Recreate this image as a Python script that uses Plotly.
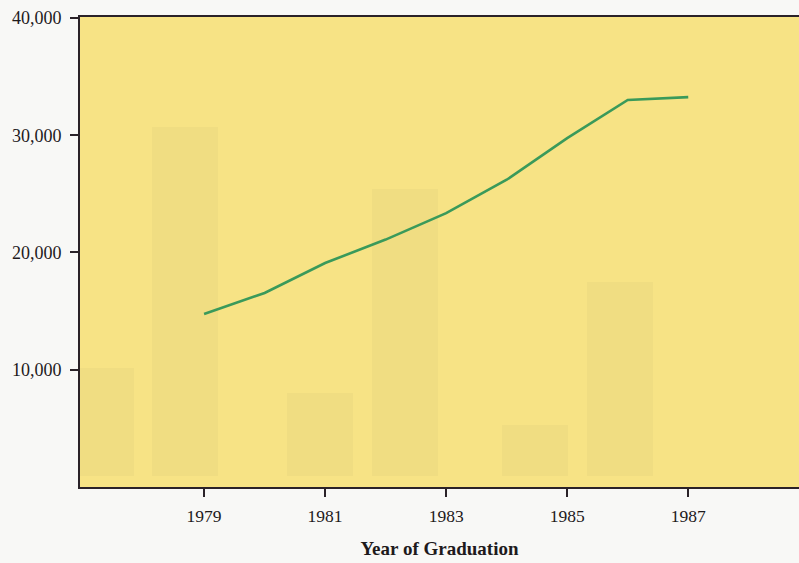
import plotly.graph_objects as go

years = [1979, 1980, 1981, 1982, 1983, 1984, 1985, 1986, 1987]
values = [14750, 16550, 19100, 21100, 23350, 26200, 29750, 33000, 33250]

# faint show-through bars visible in the scanned page
ghost_x = [1977.30, 1978.69, 1980.92, 1982.32, 1984.47, 1985.88]
ghost_top = [10150, 30700, 8020, 25420, 5290, 17490]
ghost_base = 940

tick_vals_x = [1979, 1981, 1983, 1985, 1987]
tick_vals_y = [10000, 20000, 30000, 40000]
tick_text_y = ["10,000", "20,000", "30,000", "40,000"]

FONT = "Liberation Serif, Times New Roman, serif"
AXIS = "#2a2228"

fig = go.Figure()
fig.add_trace(go.Bar(
    x=ghost_x,
    y=[t - ghost_base for t in ghost_top],
    base=ghost_base,
    width=1.09,
    marker=dict(color="#f0dd82", line=dict(width=0)),
    hoverinfo="skip",
    showlegend=False,
))
fig.add_trace(go.Scatter(
    x=years, y=values, mode="lines",
    line=dict(color="#3a9a5a", width=2.6),
    showlegend=False,
))

fig.update_layout(
    width=799, height=563,
    margin=dict(l=80, r=0, t=17, b=76),
    paper_bgcolor="#f8f8f6",
    plot_bgcolor="#f7e385",
    font=dict(family=FONT, size=17, color="#1e1a1c"),
    bargap=0,
)
fig.update_xaxes(
    range=[1976.95, 1988.83],
    tickvals=tick_vals_x,
    ticktext=[str(v) for v in tick_vals_x],
    ticks="outside", ticklen=8, tickwidth=2, tickcolor=AXIS,
    showline=True, linecolor=AXIS, linewidth=2, mirror=True,
    showgrid=False, zeroline=False,
    ticklabelstandoff=4,
    tickfont=dict(family=FONT, size=17.5),
    title=dict(text="<b>Year of Graduation</b>", font=dict(family=FONT, size=19), standoff=17),
)
fig.update_yaxes(
    range=[0, 40080],
    tickvals=tick_vals_y,
    ticktext=tick_text_y,
    ticks="outside", ticklen=8, tickwidth=2, tickcolor=AXIS,
    showline=True, linecolor=AXIS, linewidth=2,
    showgrid=False, zeroline=False,
    ticklabelstandoff=5,
    tickfont=dict(family=FONT, size=18),
)

fig.write_html(
    "out.html",
    config={"displayModeBar": False},
    post_script="document.body.style.margin='0';document.body.style.background='#f8f8f6';",
)
